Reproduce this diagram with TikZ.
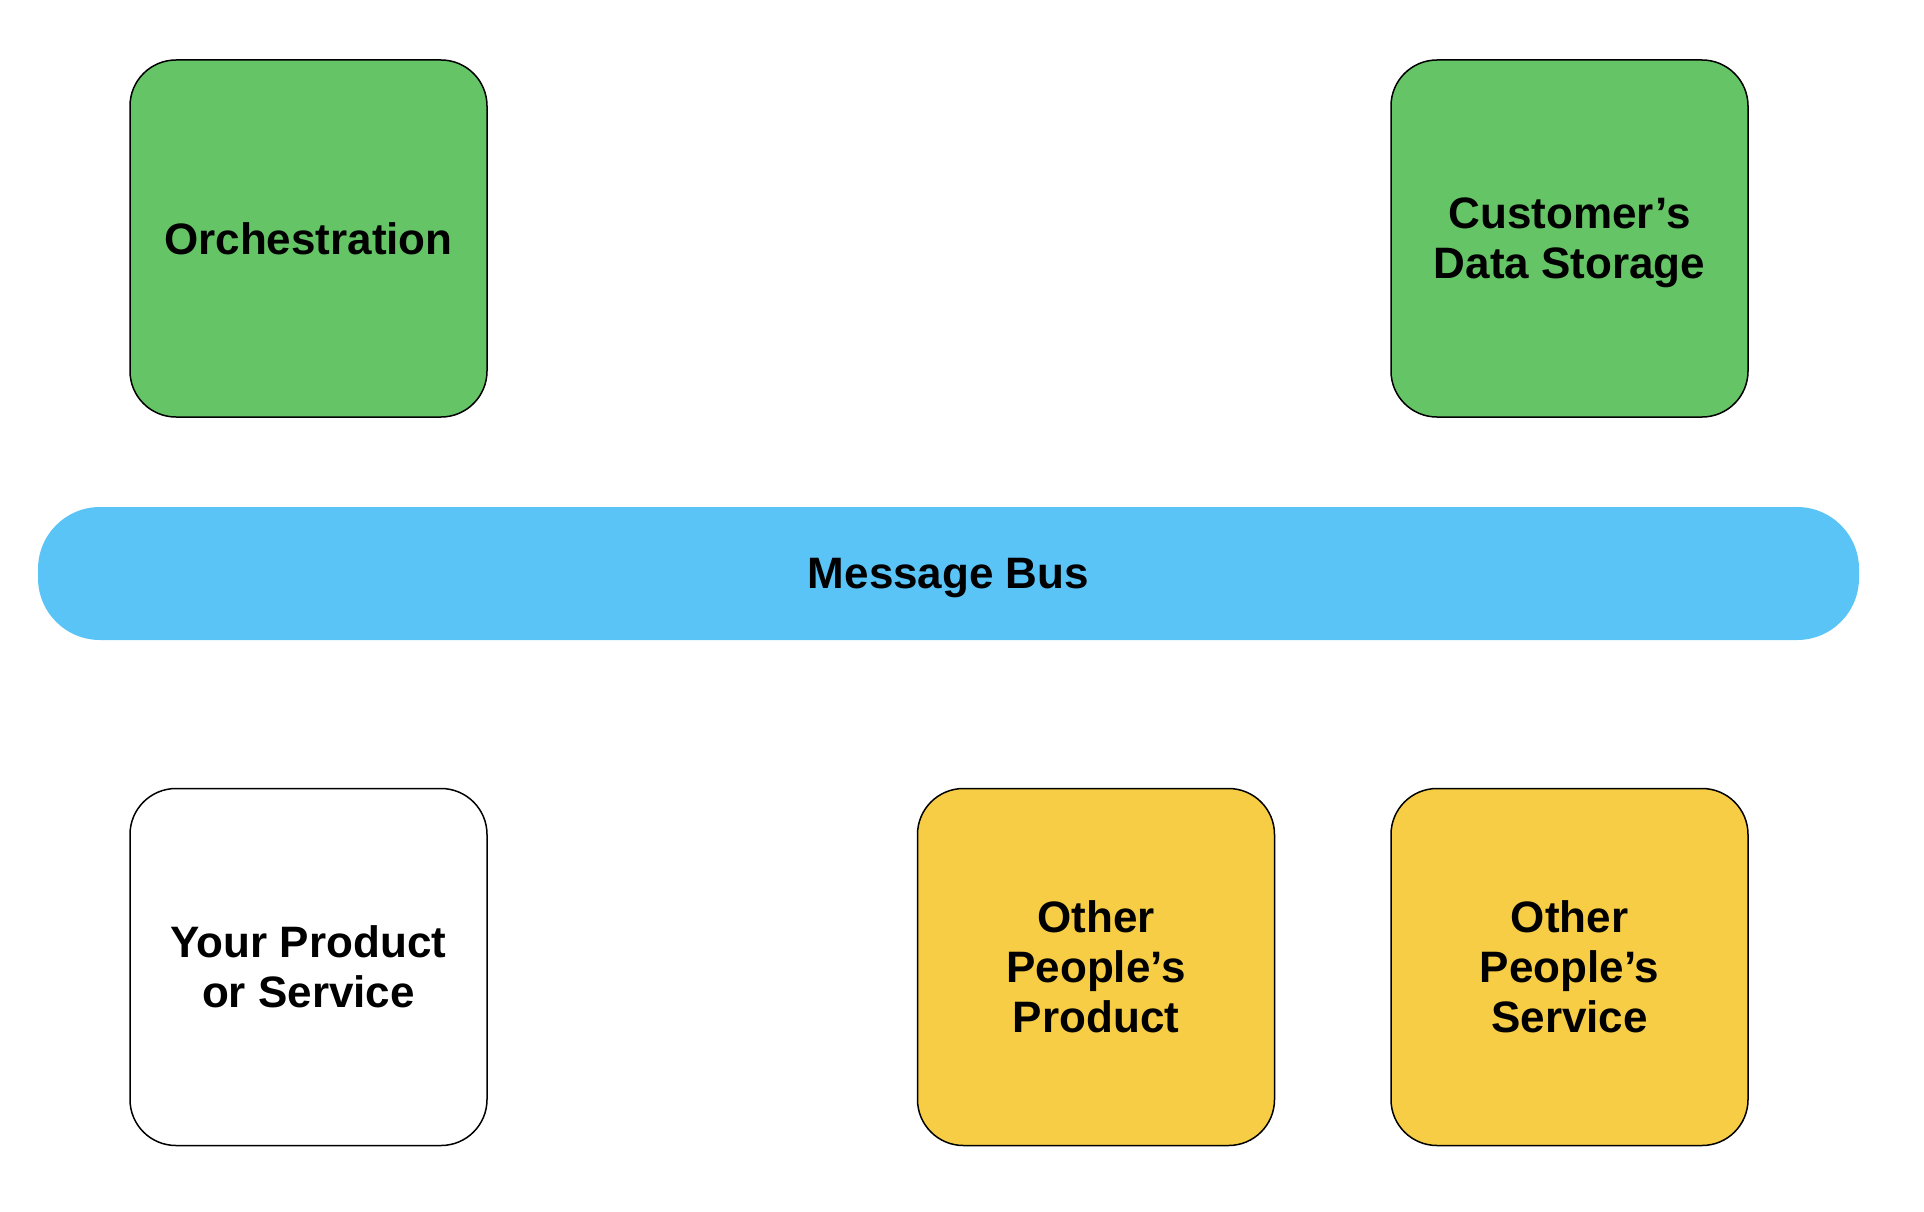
\documentclass[tikz,border=0pt]{standalone}
\usepackage{fontspec}
\setmainfont{Liberation Sans}
\usepackage{tikz}
\definecolor{boxgreen}{HTML}{65C466}
\definecolor{boxyellow}{HTML}{F6CD45}
\definecolor{busblue}{HTML}{5BC4F7}
\tikzset{
	label font/.style={font=\bfseries\fontsize{44}{50}\selectfont, text depth=0pt},
	block/.style={draw=black, line width=1.5pt, rounded corners=46pt, minimum width=357pt, minimum height=357pt, align=center, inner sep=0pt, label font},
	greenblock/.style={block, fill=boxgreen},
	yellowblock/.style={block, fill=boxyellow},
	whiteblock/.style={block, fill=white},
	busbar/.style={fill=busblue, rounded corners=62pt, minimum width=1821pt, minimum height=133pt, inner sep=0pt, label font}
}
\begin{document}
\begin{tikzpicture}[x=1pt, y=-1pt]
		%%%%% START %%%%%
		\useasboundingbox (0, 0) rectangle (1924, 1212);
		
		\node[greenblock] (orch) at (308.5, 238.5) {Orchestration};
		\node[greenblock] (storage) at (1569.5, 238.5) {Customer’s\\Data Storage};
		
		\node[busbar] (bus) at (948.5, 573.5) {Message Bus};
		
		\node[whiteblock] (yours) at (308.5, 967) {Your Product\\or Service};
		\node[yellowblock] (otherprod) at (1096, 967) {Other\\People’s\\Product};
		\node[yellowblock] (otherserv) at (1569.5, 967) {Other\\People’s\\Service};
		%%%%% END %%%%%
\end{tikzpicture}
\end{document}
